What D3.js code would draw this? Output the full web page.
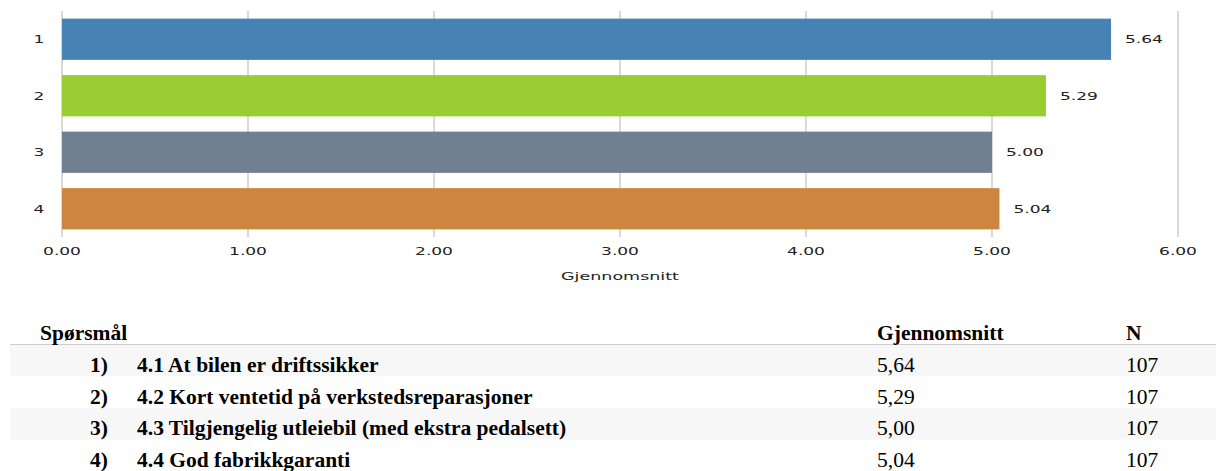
<!DOCTYPE html>
<html><head><meta charset="utf-8">
<script src="https://cdn.jsdelivr.net/npm/d3@7"></script>
<style>
html,body{margin:0;padding:0;background:#fff;}
svg{display:block;}
</style></head>
<body>
<svg id="chart" width="1216" height="471"></svg>
<script>
const categories = ["1", "2", "3", "4"];
const values = [5.64, 5.29, 5.00, 5.04];
const barColors = ["#4682b4", "#9acd32", "#708090", "#cd853f"];
const xTickValues = [0, 1, 2, 3, 4, 5, 6];
const axisTitle = "Gjennomsnitt";
const rowLabels = ["1)", "2)", "3)", "4)"];
const questions = [
  "4.1 At bilen er driftssikker",
  "4.2 Kort ventetid på verkstedsreparasjoner",
  "4.3 Tilgjengelig utleiebil (med ekstra pedalsett)",
  "4.4 God fabrikkgaranti"
];
const nValues = [107, 107, 107, 107];
const tableHeaders = ["Spørsmål", "Gjennomsnitt", "N"];

const svg = d3.select("#chart");
const SX = 1.55;
const chartFont = "'DejaVu Sans', Verdana, sans-serif";
const textColor = "#222";

const x = d3.scaleLinear().domain([0, 6]).range([62, 1178]);
const y = d3.scaleBand().domain(categories).range([11, 237]).paddingInner(0.27).paddingOuter(0.135);

// gridlines
svg.append("g").selectAll("line").data(xTickValues).join("line")
  .attr("x1", d => x(d)).attr("x2", d => x(d))
  .attr("y1", 11).attr("y2", 237)
  .attr("stroke", "#d9d9d9").attr("stroke-width", 2);

// bars
svg.append("g").selectAll("rect").data(values).join("rect")
  .attr("x", x(0))
  .attr("y", (d, i) => y(categories[i]))
  .attr("width", d => x(d) - x(0))
  .attr("height", y.bandwidth())
  .attr("fill", (d, i) => barColors[i]);

function stext(g, tx, ty, str, anchor, size) {
  g.append("text")
    .attr("transform", `translate(${tx},${ty}) scale(${SX},1)`)
    .attr("text-anchor", anchor)
    .attr("dominant-baseline", "central")
    .attr("font-family", chartFont)
    .attr("font-size", size)
    .attr("fill", textColor)
    .text(str);
}

const labels = svg.append("g");
categories.forEach((c, i) => {
  stext(labels, 39, y(c) + y.bandwidth() / 2, c, "middle", 11);
  stext(labels, x(values[i]) + 14, y(c) + y.bandwidth() / 2, d3.format(".2f")(values[i]), "start", 11);
});
xTickValues.forEach(t => stext(labels, x(t), 251, d3.format(".2f")(t), "middle", 11));
stext(labels, (x(0) + x(6)) / 2, 276, axisTitle, "middle", 11.3);

// table
const tbl = svg.append("g");
const serif = "'Liberation Serif', 'Times New Roman', serif";
const rowTop = 345, rowH = 31.5;
const colX = {num: 108, q: 137, avg: 877, n: 1126};

questions.forEach((q, i) => {
  if (i % 2 === 0) {
    tbl.append("rect").attr("x", 10).attr("y", rowTop + i * rowH)
      .attr("width", 1206).attr("height", rowH).attr("fill", "#f7f7f7");
  }
});
tbl.append("line").attr("x1", 10).attr("x2", 1216).attr("y1", 344.5).attr("y2", 344.5)
  .attr("stroke", "#cfcfcf").attr("stroke-width", 1);

function ttext(tx, ty, str, anchor, weight) {
  tbl.append("text").attr("x", tx).attr("y", ty)
    .attr("text-anchor", anchor)
    .attr("font-family", serif).attr("font-size", 21.5).attr("font-weight", weight)
    .attr("fill", "#000").text(str);
}
ttext(40, 340, tableHeaders[0], "start", "bold");
ttext(colX.avg, 340, tableHeaders[1], "start", "bold");
ttext(colX.n, 340, tableHeaders[2], "start", "bold");

questions.forEach((q, i) => {
  const by = rowTop + i * rowH + 27;
  ttext(colX.num, by, rowLabels[i], "end", "bold");
  ttext(colX.q, by, q, "start", "bold");
  ttext(colX.avg, by, d3.format(".2f")(values[i]).replace(".", ","), "start", "normal");
  ttext(colX.n, by, String(nValues[i]), "start", "normal");
});
</script>
</body></html>
